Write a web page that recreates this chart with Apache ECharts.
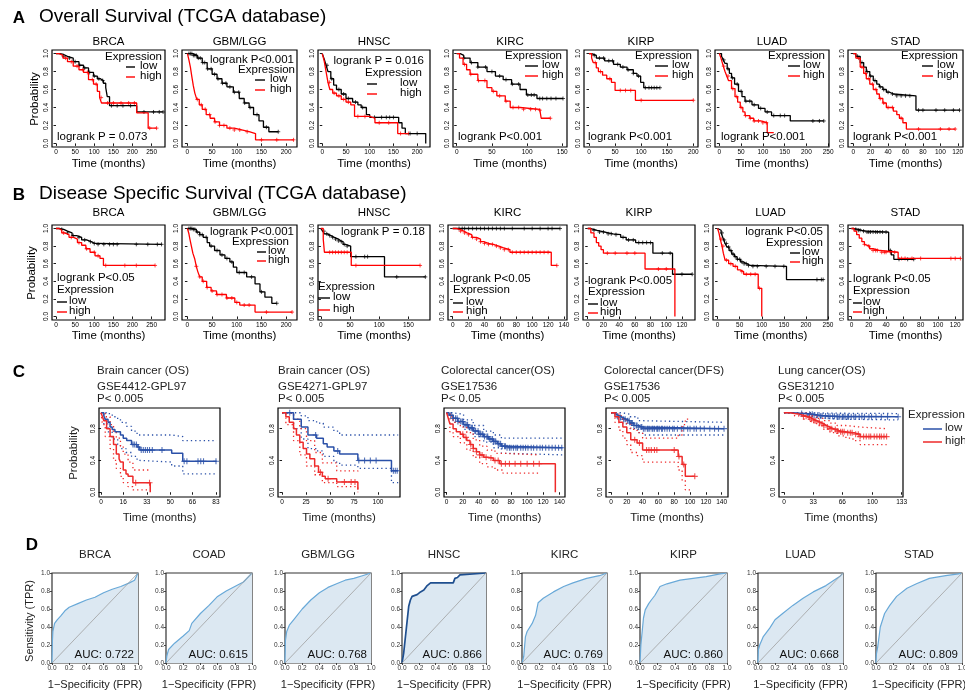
<!DOCTYPE html>
<html>
<head>
<meta charset="utf-8">
<script src="https://cdn.jsdelivr.net/npm/echarts@6/dist/echarts.min.js"></script>
<style>
html,body{margin:0;padding:0;background:#fff;}
#chart{width:965px;height:691px;}
</style>
</head>
<body>
<div id="chart"></div>
<script>
// ---------- A: overall survival (TCGA) ----------
const osBrcaLow = [[0,1],[10,0.99],[20,0.97],[30,0.95],[45,0.91],[60,0.87],[72,0.84],[85,0.79],[98,0.75],[108,0.72],[116,0.70],[124,0.67],[130,0.62],[134,0.52],[140,0.42],[211,0.35],[280,0.35]];
const osBrcaHigh = [[0,1],[8,0.98],[18,0.95],[30,0.91],[45,0.86],[60,0.82],[72,0.79],[85,0.71],[98,0.66],[108,0.58],[114,0.51],[119,0.45],[211,0.34],[241,0.17],[263,0.17]];
const osBrcaLowCens = [20,35,50,62,75,88,100,112,122,145,160,175,195,230,255,270,280];
const osBrcaHighCens = [25,40,55,70,82,95,105,118,135,150,170,190,205,245,263];

const osGbmLow = [[0,1],[10,0.98],[20,0.95],[30,0.90],[40,0.83],[50,0.77],[60,0.72],[70,0.67],[80,0.63],[93,0.57],[105,0.50],[115,0.45],[125,0.40],[134,0.32],[145,0.25],[154,0.18],[165,0.13],[184,0.13]];
const osGbmHigh = [[0,1],[3,0.93],[6,0.85],[9,0.74],[12,0.64],[15,0.56],[19,0.49],[24,0.43],[30,0.38],[38,0.32],[46,0.28],[55,0.24],[65,0.20],[80,0.17],[95,0.15],[110,0.13],[125,0.11],[138,0.04],[215,0.04]];
const osGbmLowCens = [3,6,9,12,15,18,22,26,31,35,41,48,55,62,71,78,86,95,104,116,127,141,160,184];
const osGbmHighCens = [20,28,36,45,56,65,74,86,95,106,121,150,181,215];

const osHnscLow = [[0,1],[4,0.94],[8,0.87],[12,0.80],[18,0.72],[24,0.65],[30,0.60],[40,0.55],[50,0.50],[64,0.46],[75,0.43],[82,0.40],[93,0.32],[100,0.29],[161,0.23],[168,0.17],[175,0.11],[218,0]];
const osHnscHigh = [[0,1],[4,0.92],[8,0.80],[12,0.68],[16,0.60],[22,0.56],[30,0.53],[40,0.49],[50,0.46],[60,0.43],[68,0.30],[100,0.28],[111,0.23],[159,0.11],[182,0.11]];
const osHnscLowCens = [10,20,35,45,55,70,85,110,125,135,142,150,185,200];
const osHnscHighCens = [15,25,35,45,55,75,90,120,140,165,182];

const osKircLow = [[0,1],[5,0.98],[10,0.95],[19,0.90],[30,0.85],[43,0.80],[55,0.75],[66,0.71],[78,0.66],[90,0.60],[99,0.54],[114,0.50],[151,0.50]];
const osKircHigh = [[0,1],[4,0.95],[9,0.88],[14,0.82],[19,0.77],[30,0.70],[43,0.62],[50,0.58],[57,0.53],[69,0.47],[76,0.40],[90,0.38],[118,0.37],[120,0.28],[133,0.28]];
const osKircLowCens = [10,21,30,41,50,61,70,79,88,101,106,110,118,122,128,134,141,151];
const osKircHighCens = [11,20,31,40,52,61,70,80,88,95,105,112,118,133];

const osKirpLow = [[0,1],[5,0.98],[14,0.95],[30,0.92],[47,0.88],[60,0.85],[73,0.82],[85,0.78],[92,0.75],[99,0.68],[105,0.62],[136,0.62]];
const osKirpHigh = [[0,1],[5,0.95],[8,0.90],[14,0.84],[18,0.80],[26,0.76],[34,0.72],[43,0.68],[50,0.59],[89,0.48],[200,0.48]];
const osKirpLowCens = [10,20,28,38,45,55,65,75,85,95,108,115,120,125,130,136];
const osKirpHighCens = [12,22,40,60,70,80,100,200];

const osLuadLow = [[0,1],[5,0.97],[9,0.93],[13,0.89],[18,0.83],[23,0.78],[28,0.73],[35,0.66],[44,0.58],[52,0.52],[59,0.47],[75,0.43],[90,0.39],[105,0.35],[120,0.31],[163,0.25],[240,0.25]];
const osLuadHigh = [[0,1],[3,0.96],[6,0.91],[9,0.86],[13,0.80],[17,0.75],[21,0.70],[28,0.61],[36,0.52],[42,0.46],[48,0.40],[54,0.35],[59,0.31],[70,0.28],[79,0.25],[95,0.23],[110,0.12],[125,0.12]];
const osLuadLowCens = [10,20,30,41,50,61,70,80,95,110,125,140,150,215,230,240];
const osLuadHighCens = [10,20,31,40,50,60,71,80,90,100,108];

const osStadLow = [[0,1],[3,0.97],[8,0.90],[12,0.85],[15,0.80],[19,0.75],[23,0.70],[27,0.66],[30,0.63],[34,0.60],[38,0.57],[42,0.55],[46,0.53],[72,0.37],[122,0.37]];
const osStadHigh = [[0,1],[3,0.95],[8,0.85],[12,0.78],[15,0.72],[19,0.66],[23,0.60],[27,0.55],[30,0.50],[34,0.45],[38,0.40],[46,0.36],[50,0.32],[53,0.28],[57,0.23],[61,0.16],[117,0.16]];
const osStadLowCens = [5,10,16,20,25,31,35,40,45,50,55,60,65,75,80,95,105,115,122];
const osStadHighCens = [6,10,14,18,22,26,31,35,40,45,55,75,100,110,117];

// ---------- B: disease specific survival (TCGA) ----------
const dssBrcaLow = [[0,1],[10,0.99],[20,0.97],[30,0.95],[42,0.92],[54,0.90],[67,0.87],[80,0.85],[92,0.83],[102,0.82],[276,0.82]];
const dssBrcaHigh = [[0,1],[8,0.98],[15,0.95],[22,0.93],[34,0.90],[46,0.88],[56,0.84],[67,0.81],[78,0.77],[89,0.73],[102,0.69],[115,0.66],[124,0.58],[259,0.58]];
const dssBrcaLowCens = [15,30,45,60,75,90,100,110,125,140,150,160,210,240,265,276];
const dssBrcaHighCens = [20,40,60,80,100,110,130,180,210,259];

const dssGbmLow = [[0,1],[10,0.99],[18,0.96],[25,0.93],[32,0.90],[40,0.84],[45,0.80],[55,0.75],[66,0.70],[76,0.66],[86,0.62],[93,0.56],[100,0.50],[120,0.45],[137,0.37],[147,0.28],[157,0.22],[171,0.15],[181,0.15]];
const dssGbmHigh = [[0,1],[3,0.94],[5,0.88],[8,0.80],[11,0.72],[15,0.65],[18,0.57],[21,0.51],[25,0.45],[30,0.40],[39,0.33],[48,0.29],[59,0.25],[79,0.21],[96,0.16],[106,0.13],[137,0.05],[212,0.05]];
const dssGbmLowCens = [3,6,9,12,15,20,25,30,38,48,60,70,80,90,105,115,130,150,181];
const dssGbmHighCens = [18,25,32,40,50,60,70,80,90,100,115,125,160,212];

const dssHnscLow = [[0,1],[3,0.97],[6,0.94],[11,0.92],[17,0.90],[23,0.88],[30,0.86],[34,0.85],[38,0.82],[42,0.80],[51,0.68],[105,0.68],[109,0.45],[179,0.45]];
const dssHnscHigh = [[0,1],[4,0.88],[6,0.73],[52,0.58],[170,0.58]];
const dssHnscLowCens = [5,10,15,20,25,30,35,40,45,60,75,80,130,179];
const dssHnscHighCens = [15,20,25,30,35,40,45,60,170];

const dssKircLow = [[0,1],[135,1]];
const dssKircHigh = [[0,1],[5,0.99],[9,0.97],[14,0.95],[18,0.93],[24,0.90],[30,0.88],[35,0.85],[39,0.83],[45,0.82],[51,0.80],[58,0.78],[64,0.76],[72,0.73],[124,0.58],[131,0.58]];
const dssKircLowCens = [8,12,15,20,25,30,35,40,45,50,55,60,65,75,90,100,110,120,125,135];
const dssKircHighCens = [10,15,20,25,30,35,40,45,50,55,60,65,70,75,80,85,90,95,100,105,110,115,120,131];

const dssKirpLow = [[0,1],[4,0.98],[12,0.96],[22,0.94],[32,0.93],[42,0.90],[49,0.87],[61,0.84],[83,0.72],[108,0.48],[133,0.48]];
const dssKirpHigh = [[0,1],[4,0.95],[8,0.90],[11,0.84],[14,0.80],[17,0.76],[20,0.72],[73,0.54],[111,0]];
const dssKirpLowCens = [8,15,20,26,30,36,45,52,58,65,70,75,80,95,105,120,133];
const dssKirpHighCens = [25,35,50,60,90,100];

const dssLuadLow = [[0,1],[4,0.98],[8,0.95],[11,0.91],[14,0.87],[17,0.83],[21,0.79],[26,0.75],[32,0.71],[38,0.68],[44,0.65],[52,0.62],[59,0.60],[66,0.58],[74,0.57],[156,0.42],[239,0.42]];
const dssLuadHigh = [[0,1],[3,0.95],[6,0.88],[10,0.80],[13,0.72],[17,0.64],[25,0.60],[35,0.57],[45,0.53],[51,0.51],[59,0.48],[92,0.32],[100,0]];
const dssLuadLowCens = [10,15,20,25,30,35,40,45,50,55,60,65,70,80,90,110,130,150,225,235,239];
const dssLuadHighCens = [8,12,20,30,40,55,65,75,85,95];

const dssStadLow = [[0,1],[3,0.99],[8,0.98],[12,0.97],[17,0.96],[43,0.75],[46,0.70],[49,0.65],[72,0.65]];
const dssStadHigh = [[0,1],[3,0.97],[6,0.93],[9,0.89],[12,0.85],[15,0.82],[17,0.80],[21,0.77],[25,0.75],[33,0.73],[54,0.66],[126,0.66]];
const dssStadLowCens = [5,8,10,14,18,20,22,25,28,30,33,36,40,45,55,65,72];
const dssStadHighCens = [15,20,25,28,30,35,38,40,45,50,58,62,70,80,115,120,126];

// ---------- C: GEO cohorts (PrognoScan) ----------
const c1Low = [[0,1],[2,0.96],[3,0.92],[5,0.88],[6.5,0.82],[8,0.79],[10,0.76],[14,0.72],[16,0.68],[18.5,0.65],[22,0.60],[26,0.57],[28,0.53],[51,0.49],[59,0.39],[83.5,0.39]];
const c1LowUp = [[0,1],[3,1],[6,0.97],[10,0.93],[14,0.88],[18,0.83],[22,0.77],[26,0.72],[51,0.70],[59,0.65],[83.5,0.65]];
const c1LowLo = [[0,1],[2,0.86],[5,0.76],[8,0.67],[12,0.60],[14,0.55],[18,0.50],[22,0.45],[26,0.40],[28,0.38],[51,0.33],[59,0.23],[83.5,0.23]];
const c1High = [[0,1],[1,0.95],[2,0.90],[4,0.80],[6.5,0.70],[9,0.60],[11,0.48],[13,0.42],[14,0.38],[16,0.28],[18,0.23],[19.5,0.20],[23,0.12],[35.5,0]];
const c1HighUp = [[0,1],[1,1],[3,0.95],[6.5,0.85],[9,0.76],[11,0.68],[14,0.58],[16,0.48],[19.5,0.38],[23,0.28],[35.5,0.28]];
const c1HighLo = [[0,1],[1,0.85],[3,0.70],[6.5,0.55],[9,0.40],[11,0.30],[14,0.20],[16,0.12],[19.5,0.07],[23,0.03],[35.5,0.03]];
const c1LowCens = [23,24,25.5,27,29,30.5,32,33.5,35,37,44,60,62,70,72,74,83];
const c1HighCens = [25,35];

const c2Low = [[0,1],[12,0.92],[20,0.82],[27,0.72],[36,0.68],[43,0.61],[47,0.57],[54,0.52],[60,0.48],[79,0.40],[114,0.27],[121,0.27]];
const c2LowUp = [[0,1],[12,1],[20,0.96],[27,0.90],[36,0.87],[43,0.82],[54,0.77],[60,0.72],[121,0.72]];
const c2LowLo = [[0,1],[12,0.80],[20,0.67],[27,0.55],[36,0.52],[43,0.45],[54,0.38],[60,0.34],[79,0.30],[114,0.12],[121,0.12]];
const c2High = [[0,1],[4,0.95],[7.5,0.88],[12,0.80],[15,0.72],[18.5,0.63],[22,0.55],[25.5,0.48],[29,0.42],[34,0.33],[38,0.25],[42,0.20],[45,0.17],[57,0.13],[79,0.03]];
const c2HighUp = [[0,1],[4,1],[12,0.92],[18.5,0.80],[25.5,0.65],[34,0.50],[42,0.37],[57,0.27],[79,0.25]];
const c2HighLo = [[0,1],[4,0.85],[12,0.65],[18.5,0.47],[25.5,0.33],[34,0.22],[42,0.12],[57,0.07],[79,0.0]];
const c2LowCens = [8,35,58,80,86,92,98,116,118,120];
const c2HighCens = [40,48,65,72,76];

const c3Low = [[0,1],[3,0.97],[8,0.93],[14,0.89],[21,0.85],[27,0.81],[33,0.77],[40,0.73],[46,0.70],[52,0.67],[58,0.64],[63,0.61],[68,0.58],[75,0.56],[144,0.56]];
const c3LowUp = [[0,1],[8,0.98],[21,0.91],[33,0.84],[46,0.77],[58,0.72],[68,0.68],[144,0.68]];
const c3LowLo = [[0,1],[8,0.88],[21,0.79],[33,0.70],[46,0.63],[58,0.56],[68,0.49],[75,0.47],[144,0.47]];
const c3High = [[0,1],[2,0.93],[4,0.86],[8,0.80],[12,0.76],[17,0.73],[21,0.69],[25,0.65],[29,0.60],[33,0.55],[37,0.51],[41,0.47],[46,0.44],[50,0.43],[58,0.40],[66,0.36],[135,0]];
const c3HighUp = [[0,1],[4,0.95],[8,0.88],[17,0.82],[25,0.75],[33,0.66],[41,0.58],[50,0.53],[60,0.49],[70,0.47],[115,0.47]];
const c3HighLo = [[0,1],[4,0.76],[8,0.70],[17,0.62],[25,0.53],[33,0.44],[41,0.36],[50,0.32],[60,0.28],[70,0.24],[115,0.24]];
const c3LowCens = [5,8,11,13,14,17,19,20,23,25,26,29,31,32,35,36,39,40,42,44,45,47,50,51,53,55,57,58,60,61,64,65,67,69,72,73,75,78,80,83,86,88,92,95,98,101,105,108,112,116,119,123,127,131,135,139,143];
const c3HighCens = [20,24,30,33,37,41,44,49,55,60,64,68,73,78,85,92,100,108,115];

const c4Low = [[0,1],[3,0.98],[7,0.96],[11,0.94],[15,0.92],[19,0.90],[24,0.87],[29,0.84],[34,0.82],[40,0.80],[143,0.80]];
const c4LowUp = [[0,1],[7,1],[15,0.98],[24,0.95],[34,0.90],[40,0.88],[143,0.88]];
const c4LowLo = [[0,1],[7,0.92],[15,0.86],[24,0.80],[34,0.75],[40,0.72],[143,0.72]];
const c4High = [[0,1],[5,0.95],[10,0.88],[15,0.82],[20,0.75],[25,0.66],[33,0.62],[40,0.53],[85,0.45],[90,0.35],[94,0.20],[106,0.20]];
const c4HighUp = [[0,1],[5,1],[10,0.96],[15,0.91],[20,0.86],[25,0.79],[33,0.75],[40,0.68],[85,0.72],[90,0.85],[94,0.92],[100,0.92]];
const c4HighLo = [[0,1],[5,0.88],[10,0.78],[15,0.68],[20,0.60],[25,0.50],[33,0.46],[40,0.38],[85,0.28],[90,0.15],[94,0.03],[100,0.03]];
const c4LowCens = [8,12,16,18,21,23,26,27,29,32,33,35,38,39,41,43,46,47,49,52,53,55,58,59,61,64,65,68,71,74,78,80,84,89,92,97,100,105,108,113,118,125,131,136,143];
const c4HighCens = [30,36,45,48,51,55,58,80,86,92,106];

const c5Low = [[0,1],[10,0.995],[18,0.99],[25,0.98],[33,0.97],[40,0.96],[50,0.955],[60,0.95],[129,0.95]];
const c5LowUp = [[0,1],[25,1],[33,0.995],[50,0.99],[129,0.99]];
const c5LowLo = [[0,1],[18,0.97],[25,0.95],[33,0.94],[40,0.93],[50,0.92],[60,0.91],[129,0.91]];
const c5High = [[0,1],[7,0.99],[12,0.98],[18,0.97],[22,0.955],[26,0.94],[30,0.92],[33,0.90],[37,0.88],[41,0.86],[45,0.84],[48,0.82],[52,0.80],[56,0.79],[60,0.77],[63,0.76],[70,0.75],[78,0.73],[86,0.70],[116,0.70]];
const c5HighUp = [[0,1],[12,1],[22,0.99],[30,0.96],[37,0.93],[45,0.90],[52,0.87],[60,0.84],[70,0.83],[78,0.82],[86,0.80],[116,0.80]];
const c5HighLo = [[0,1],[12,0.96],[22,0.92],[30,0.88],[37,0.84],[45,0.79],[52,0.75],[60,0.71],[70,0.68],[78,0.65],[86,0.60],[116,0.60]];
const c5LowCens = [20,29,32,34,38,41,43,47,50,52,55,57,60,61,63,66,67,69,72,73,76,79,81,85,88,91,96,99,104,110,117,129];
const c5HighCens = [22,25,29,31,34,36,40,43,45,49,52,54,58,60,61,64,66,68,72,75,77,81,84,86,90,93,96,98,102,105,108,110,113,116];

// ---------- D: ROC curves ----------
const rocBrca = [[0,0],[0.005,0.25],[0.01,0.35],[0.03,0.44],[0.06,0.48],[0.1,0.52],[0.15,0.58],[0.2,0.62],[0.3,0.66],[0.4,0.70],[0.5,0.73],[0.6,0.78],[0.7,0.82],[0.8,0.85],[0.9,0.89],[0.96,0.92],[1,1]];
const rocCoad = [[0,0],[0.01,0.08],[0.03,0.15],[0.1,0.22],[0.2,0.30],[0.27,0.36],[0.3,0.44],[0.4,0.55],[0.5,0.64],[0.6,0.74],[0.7,0.80],[0.8,0.85],[0.9,0.90],[1,1]];
const rocGbm = [[0,0],[0.005,0.25],[0.02,0.35],[0.05,0.42],[0.1,0.48],[0.2,0.60],[0.3,0.70],[0.4,0.78],[0.5,0.84],[0.6,0.88],[0.7,0.92],[0.8,0.94],[0.9,0.97],[1,1]];
const rocHnsc = [[0,0],[0.02,0.11],[0.05,0.37],[0.08,0.63],[0.1,0.70],[0.12,0.74],[0.18,0.76],[0.22,0.79],[0.26,0.81],[0.3,0.86],[0.34,0.89],[0.61,0.89],[0.63,0.94],[0.66,0.95],[0.69,0.98],[0.7,1],[1,1]];
const rocKirc = [[0,0],[0.02,0.07],[0.04,0.29],[0.06,0.35],[0.12,0.44],[0.16,0.53],[0.19,0.67],[0.25,0.72],[0.37,0.79],[0.49,0.85],[0.6,0.89],[0.76,0.94],[0.91,0.97],[1,1]];
const rocKirp = [[0,0],[0.01,0.2],[0.03,0.4],[0.04,0.5],[0.06,0.59],[0.1,0.66],[0.13,0.70],[0.17,0.75],[0.23,0.85],[0.31,0.88],[0.46,0.92],[0.61,0.94],[0.76,0.96],[0.92,0.99],[1,1]];
const rocLuad = [[0,0],[0.005,0.15],[0.02,0.20],[0.06,0.29],[0.14,0.39],[0.2,0.48],[0.29,0.55],[0.41,0.64],[0.53,0.72],[0.65,0.79],[0.8,0.86],[0.96,0.96],[1,1]];
const rocStad = [[0,0],[0.005,0.1],[0.02,0.18],[0.05,0.40],[0.1,0.55],[0.16,0.64],[0.24,0.74],[0.36,0.83],[0.47,0.88],[0.62,0.94],[0.81,0.97],[0.96,0.99],[1,1]];
const rocDiag = [[0,0],[1,1]];
const rocAuc = ['0.722','0.615','0.768','0.866','0.769','0.860','0.668','0.809'];
const rocNames = ['BRCA','COAD','GBM/LGG','HNSC','KIRC','KIRP','LUAD','STAD'];

const probTicks = [0,0.2,0.4,0.6,0.8,1.0];
const geoTicks = [0,0.4,0.8];
const rocTicks = [0,0.2,0.4,0.6,0.8,1.0];

const FONT = '"Liberation Sans", Arial, Helvetica, sans-serif';
const RED = '#ff0000', BLK = '#000000';
const GBLUE = '#2a50a8', GRED = '#ee2a2a';
const PLUS = 'path://M0,5L10,5M5,0L5,10';

const grids = [], xAxes = [], yAxes = [], series = [], graphics = [];

function survAt(curve, t) {
  let s = curve[0][1];
  for (const p of curve) { if (p[0] <= t) s = p[1]; else break; }
  return s;
}

function addAxes(box, xr, yr, xt, yt, o) {
  const gi = grids.length;
  grids.push({left: box[0], top: box[1], width: box[2] - box[0], height: box[3] - box[1],
    show: true, borderColor: o.frame || '#000', borderWidth: 1.2, backgroundColor: 'transparent',
    containLabel: false, outerBoundsMode: 'none'});
  const tickStyle = {color: o.frame || '#000', width: 0.9};
  xAxes.push({type: 'value', gridIndex: gi, min: xr[0], max: xr[1], splitLine: {show: false},
    axisLine: {show: false},
    axisTick: {show: true, length: o.tick || 2.5, lineStyle: tickStyle, customValues: xt},
    axisLabel: {customValues: xt, fontSize: 6.5, margin: o.xm || 1.5, color: o.lc || '#000', fontFamily: FONT,
      formatter: o.fx || (v => String(v))}});
  yAxes.push({type: 'value', gridIndex: gi, min: yr[0], max: yr[1], splitLine: {show: false},
    axisLine: {show: false},
    axisTick: {show: true, length: o.tick || 2.5, lineStyle: tickStyle, customValues: yt},
    axisLabel: {customValues: yt, fontSize: 6.5, margin: 2, color: o.lc || '#000', fontFamily: FONT,
      rotate: o.rotY ? 90 : 0, formatter: v => v.toFixed(1)}});
  return gi;
}

function stepLine(gi, data, color, width, type) {
  series.push({type: 'line', xAxisIndex: gi, yAxisIndex: gi, data: data, step: 'end', symbol: 'none',
    silent: true, lineStyle: {color: color, width: width, type: type || 'solid'}});
}

function censor(gi, curve, times, color, size, w) {
  series.push({type: 'scatter', xAxisIndex: gi, yAxisIndex: gi, silent: true,
    data: times.map(t => [t, survAt(curve, t)]), symbol: PLUS, symbolSize: size,
    itemStyle: {color: 'rgba(0,0,0,0)', borderColor: color, borderWidth: w}});
}

function label(text, x, y, o) {
  o = o || {};
  graphics.push({type: 'text', x: x, y: y, rotation: o.rot || 0, silent: true, z: 100,
    style: {text: text, fill: o.color || '#000', fontSize: o.size || 11.5, fontFamily: FONT,
      fontWeight: o.bold ? 'bold' : 'normal', align: o.align || 'left', verticalAlign: 'middle'}});
}

function seg(x1, y1, x2, y2, color, w) {
  graphics.push({type: 'line', silent: true, z: 100, shape: {x1: x1, y1: y1, x2: x2, y2: y2},
    style: {stroke: color, lineWidth: w}});
}

// ---------- KM panels rows A and B ----------
const kmPanels = [
  // row A
  {title: 'BRCA', box: [52,50,165,147], xr: [-10.5,285], xt: [0,50,100,150,200,250], low: osBrcaLow, high: osBrcaHigh, lc: osBrcaLowCens, hc: osBrcaHighCens,
   p: ['logrank P = 0.073', 57, 137, 'left'], leg: ['right', 162, 57, 126, 135, 67, 77, 140]},
  {title: 'GBM/LGG', box: [182,50,297,147], xr: [-11,222], xt: [0,50,100,150,200], low: osGbmLow, high: osGbmHigh, lc: osGbmLowCens, hc: osGbmHighCens,
   p: ['logrank P<0.001', 294, 60, 'right'], leg: ['right', 295, 70, 255, 265, 80, 90, 270]},
  {title: 'HNSC', box: [318,50,430,147], xr: [-9,227], xt: [0,50,100,150,200], low: osHnscLow, high: osHnscHigh, lc: osHnscLowCens, hc: osHnscHighCens,
   p: ['logrank P = 0.016', 424, 61, 'right'], leg: ['right', 422, 73, 367, 377, 84, 94, 400]},
  {title: 'KIRC', box: [453,50,567,147], xr: [-5.3,156.7], xt: [0,50,100,150], low: osKircLow, high: osKircHigh, lc: osKircLowCens, hc: osKircHighCens,
   p: ['logrank P<0.001', 458, 137, 'left'], leg: ['right', 562, 56, 525, 538, 66, 76, 542]},
  {title: 'KIRP', box: [584,50,698,147], xr: [-9.6,209], xt: [0,50,100,150,200], low: osKirpLow, high: osKirpHigh, lc: osKirpLowCens, hc: osKirpHighCens,
   p: ['logrank P<0.001', 588, 137, 'left'], leg: ['right', 692, 56, 655, 668, 66, 76, 672]},
  {title: 'LUAD', box: [715,50,829,147], xr: [-10,252], xt: [0,50,100,150,200,250], low: osLuadLow, high: osLuadHigh, lc: osLuadLowCens, hc: osLuadHighCens,
   p: ['logrank P<0.001', 721, 137, 'left'], leg: ['right', 825, 56, 788, 800, 66, 76, 803]},
  {title: 'STAD', box: [848,50,963,147], xr: [-6,126], xt: [0,20,40,60,80,100,120], low: osStadLow, high: osStadHigh, lc: osStadLowCens, hc: osStadHighCens,
   p: ['logrank P<0.001', 853, 137, 'left'], leg: ['right', 958, 56, 922, 933, 66, 76, 937]},
  // row B
  {title: 'BRCA', box: [52,225,165,320], xr: [-10.5,285], xt: [0,50,100,150,200,250], low: dssBrcaLow, high: dssBrcaHigh, lc: dssBrcaLowCens, hc: dssBrcaHighCens,
   p: ['logrank P<0.05', 57, 278, 'left'], leg: ['left', 57, 290, 57, 67, 302, 312, 69]},
  {title: 'GBM/LGG', box: [182,225,297,320], xr: [-11,222], xt: [0,50,100,150,200], low: dssGbmLow, high: dssGbmHigh, lc: dssGbmLowCens, hc: dssGbmHighCens,
   p: ['logrank P<0.001', 294, 232, 'right'], leg: ['right', 289, 242, 257, 266, 252, 261, 268]},
  {title: 'HNSC', box: [318,225,430,320], xr: [-5,187], xt: [0,50,100,150], low: dssHnscLow, high: dssHnscHigh, lc: dssHnscLowCens, hc: dssHnscHighCens,
   p: ['logrank P = 0.18', 425, 232, 'right'], leg: ['left', 318, 287, 318, 330, 298, 310, 333]},
  {title: 'KIRC', box: [448,225,567,320], xr: [-5.9,143.8], xt: [0,20,40,60,80,100,120,140], low: dssKircLow, high: dssKircHigh, lc: dssKircLowCens, hc: dssKircHighCens,
   p: ['logrank P<0.05', 453, 279, 'left'], leg: ['left', 453, 290, 453, 463, 303, 312, 466]},
  {title: 'KIRP', box: [583,225,695,320], xr: [-6,136.6], xt: [0,20,40,60,80,100,120], low: dssKirpLow, high: dssKirpHigh, lc: dssKirpLowCens, hc: dssKirpHighCens,
   p: ['logrank P<0.005', 588, 281, 'left'], leg: ['left', 588, 292, 588, 598, 304, 313, 600]},
  {title: 'LUAD', box: [713,225,828,320], xr: [-10.4,250], xt: [0,50,100,150,200,250], low: dssLuadLow, high: dssLuadHigh, lc: dssLuadLowCens, hc: dssLuadHighCens,
   p: ['logrank P<0.05', 823, 232, 'right'], leg: ['right', 823, 243, 790, 800, 253, 262, 802]},
  {title: 'STAD', box: [848,225,963,320], xr: [-4,129], xt: [0,20,40,60,80,100,120], low: dssStadLow, high: dssStadHigh, lc: dssStadLowCens, hc: dssStadHighCens,
   p: ['logrank P<0.05', 853, 279, 'left'], leg: ['left', 853, 291, 853, 862, 303, 312, 863]}
];

kmPanels.forEach(pn => {
  const gi = addAxes(pn.box, pn.xr, [-0.04,1.04], pn.xt, probTicks, {rotY: true});
  stepLine(gi, pn.low, BLK, 1.3);
  stepLine(gi, pn.high, RED, 1.3);
  censor(gi, pn.low, pn.lc, BLK, 4, 0.9);
  censor(gi, pn.high, pn.hc, RED, 4, 0.9);
  const cx = (pn.box[0] + pn.box[2]) / 2;
  const rowB = pn.box[1] > 200;
  label(pn.title, cx, rowB ? 213 : 42, {align: 'center'});
  label('Time (months)', cx, pn.box[3] + (rowB ? 16 : 16.5), {align: 'center'});
  label(pn.p[0], pn.p[1], pn.p[2], {align: pn.p[3]});
  const L = pn.leg;
  label('Expression', L[1], L[2], {align: L[0]});
  seg(L[3], L[5], L[4], L[5], BLK, 1.4);
  seg(L[3], L[6], L[4], L[6], RED, 1.4);
  label('low', L[7], L[5] - 1);
  label('high', L[7], L[6] - 1);
});

// ---------- row C ----------
const geoPanels = [
  {box: [99,408,220,497], xr: [-1.5,85.9], xt: [0,16,33,50,66,83], tx: 97, t: ['Brain cancer (OS)','GSE4412-GPL97','P< 0.005'],
   low: c1Low, lowUp: c1LowUp, lowLo: c1LowLo, high: c1High, highUp: c1HighUp, highLo: c1HighLo, lc: c1LowCens, hc: c1HighCens},
  {box: [278,408,400,497], xr: [-4.2,122.9], xt: [0,25,50,75,100], tx: 278, t: ['Brain cancer (OS)','GSE4271-GPL97','P< 0.005'],
   low: c2Low, lowUp: c2LowUp, lowLo: c2LowLo, high: c2High, highUp: c2HighUp, highLo: c2HighLo, lc: c2LowCens, hc: c2HighCens},
  {box: [444,408,565,497], xr: [-3.3,147], xt: [0,20,40,60,80,100,120,140], tx: 441, t: ['Colorectal cancer(OS)','GSE17536','P< 0.05'],
   low: c3Low, lowUp: c3LowUp, lowLo: c3LowLo, high: c3High, highUp: c3HighUp, highLo: c3HighLo, lc: c3LowCens, hc: c3HighCens},
  {box: [606,408,728,497], xr: [-6.3,148], xt: [0,20,40,60,80,100,120,140], tx: 604, t: ['Colorectal cancer(DFS)','GSE17536','P< 0.005'],
   low: c4Low, lowUp: c4LowUp, lowLo: c4LowLo, high: c4High, highUp: c4HighUp, highLo: c4HighLo, lc: c4LowCens, hc: c4HighCens},
  {box: [779,408,903,497], xr: [-5.6,134.5], xt: [0,33,66,100,133], tx: 778, t: ['Lung cancer(OS)','GSE31210','P< 0.005'],
   low: c5Low, lowUp: c5LowUp, lowLo: c5LowLo, high: c5High, highUp: c5HighUp, highLo: c5HighLo, lc: c5LowCens, hc: c5HighCens}
];

geoPanels.forEach(pn => {
  const gi = addAxes(pn.box, pn.xr, [-0.06,1.06], pn.xt, geoTicks, {rotY: true});
  const dots = [1.3, 3];
  stepLine(gi, pn.lowUp, GBLUE, 1.3, dots);
  stepLine(gi, pn.lowLo, GBLUE, 1.3, dots);
  stepLine(gi, pn.highUp, GRED, 1.3, dots);
  stepLine(gi, pn.highLo, GRED, 1.3, dots);
  stepLine(gi, pn.low, GBLUE, 1.5);
  stepLine(gi, pn.high, GRED, 1.5);
  censor(gi, pn.low, pn.lc, GBLUE, 6, 1.1);
  censor(gi, pn.high, pn.hc, GRED, 6, 1.1);
  label(pn.t[0], pn.tx, 371, {color: '#222'});
  label(pn.t[1], pn.tx, 387, {color: '#222'});
  label(pn.t[2], pn.tx, 398.5, {color: '#222'});
  label('Time (months)', (pn.box[0] + pn.box[2]) / 2, 518, {align: 'center', color: '#222'});
});
label('Expression', 908, 415, {color: '#222'});
seg(923, 429, 942, 429, GBLUE, 1.5);
seg(923, 442, 942, 442, GRED, 1.5);
label('low', 945, 428, {color: '#222'});
label('high', 945, 441, {color: '#222'});

// ---------- row D ----------
const rocCurves = [rocBrca, rocCoad, rocGbm, rocHnsc, rocKirc, rocKirp, rocLuad, rocStad];
const rocBoxes = [[52,138],[166,252],[285,371],[402,486],[522,607],[640,727],[758,843],[876,962]];
rocCurves.forEach((curve, i) => {
  const b = rocBoxes[i];
  const gi = addAxes([b[0],573,b[1],663], [0,1], [0,1], rocTicks, rocTicks,
    {frame: '#333', lc: '#333', tick: 2, fx: v => v.toFixed(1)});
  const dark = rocNames[i] === 'HNSC';
  series.push({type: 'line', xAxisIndex: gi, yAxisIndex: gi, data: curve, symbol: 'none', silent: true,
    lineStyle: {color: dark ? '#1f4f8f' : '#69a9d8', width: dark ? 1.7 : 1.2},
    areaStyle: {color: '#dce8f2', opacity: 1}});
  series.push({type: 'line', xAxisIndex: gi, yAxisIndex: gi, data: rocDiag, symbol: 'none', silent: true,
    lineStyle: {color: '#a0a0a0', width: 0.8}});
  const cx = (b[0] + b[1]) / 2;
  label(rocNames[i], cx, 555, {align: 'center', color: '#222'});
  label('AUC: ' + rocAuc[i], b[1] - 4, 655, {align: 'right', color: '#111'});
  label('1\u2212Specificity (FPR)', cx, 685, {align: 'center', size: 11, color: '#222'});
});

// ---------- headers / y titles ----------
label('A', 19, 18, {bold: true, size: 17, align: 'center'});
label('Overall Survival (TCGA database)', 39, 17, {size: 19});
label('B', 19, 195, {bold: true, size: 17, align: 'center'});
label('Disease Specific Survival (TCGA database)', 39, 194, {size: 19});
label('C', 19, 372, {bold: true, size: 17, align: 'center'});
label('D', 32, 545, {bold: true, size: 17, align: 'center'});
label('Probability', 35, 99, {rot: Math.PI / 2, align: 'center'});
label('Probability', 32, 273, {rot: Math.PI / 2, align: 'center'});
label('Probability', 74, 453, {rot: Math.PI / 2, align: 'center', color: '#222'});
label('Sensitivity (TPR)', 30, 621, {rot: Math.PI / 2, align: 'center', size: 11, color: '#222'});

const chart = echarts.init(document.getElementById('chart'));
chart.setOption({
  animation: false,
  grid: grids,
  xAxis: xAxes,
  yAxis: yAxes,
  series: series,
  graphic: {elements: graphics}
});
</script>
</body>
</html>
